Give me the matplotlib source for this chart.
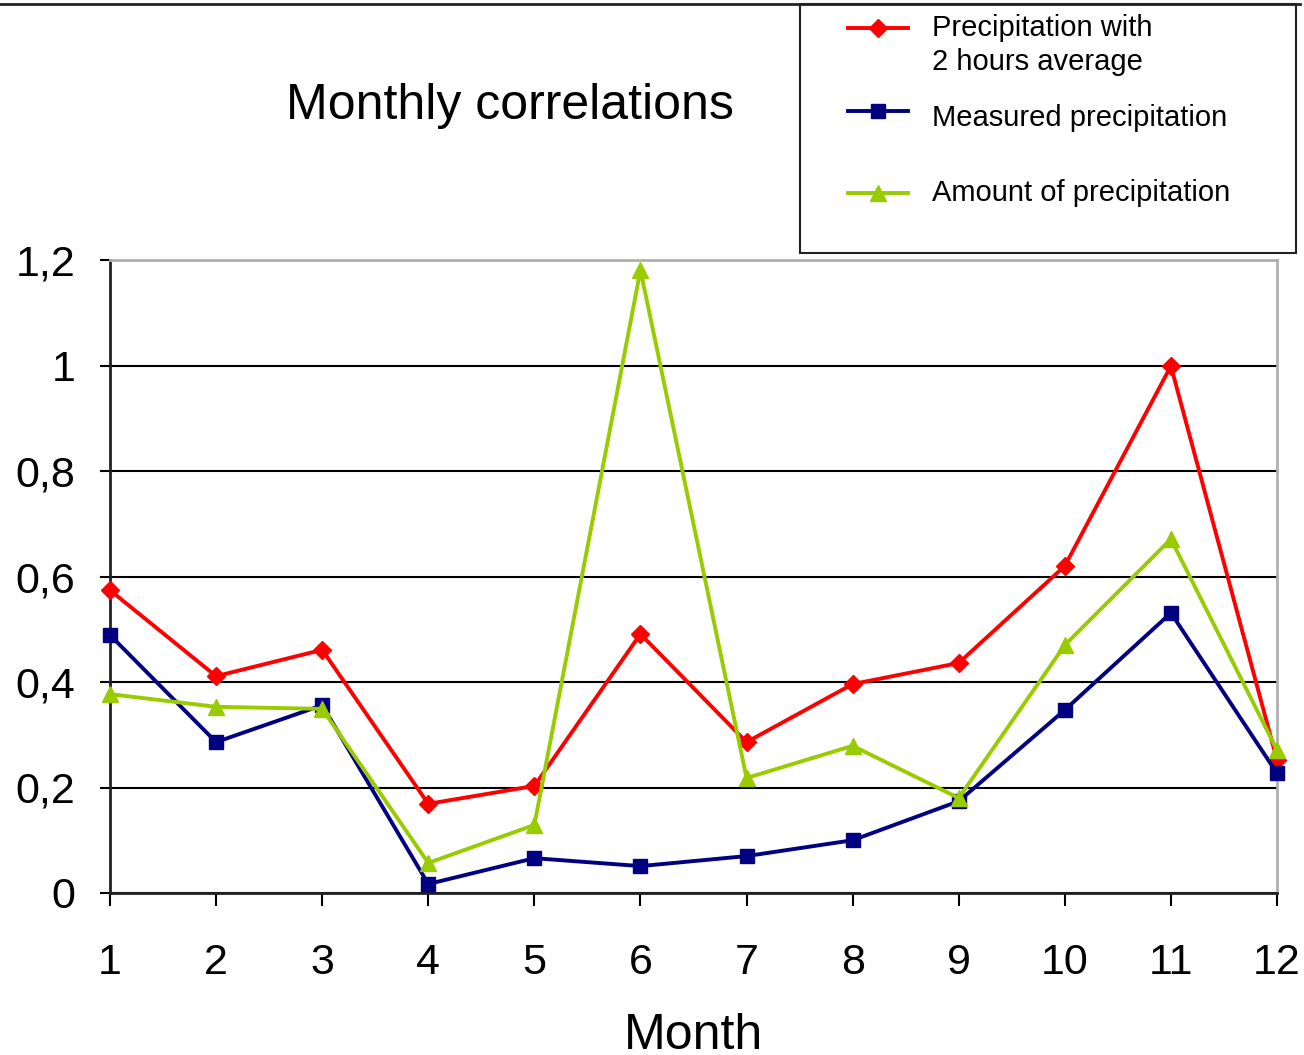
import numpy as np
import matplotlib.pyplot as plt
from matplotlib.lines import Line2D
from matplotlib.patches import Rectangle

plt.rcParams['font.family'] = ['Liberation Sans', 'DejaVu Sans']

# data
months = [1, 2, 3, 4, 5, 6, 7, 8, 9, 10, 11, 12]
avg_2h = [0.574, 0.411, 0.461, 0.169, 0.203, 0.491, 0.286, 0.396, 0.436, 0.620, 0.999, 0.252]
measured = [0.489, 0.286, 0.356, 0.017, 0.066, 0.051, 0.070, 0.100, 0.174, 0.347, 0.531, 0.227]
amount = [0.377, 0.353, 0.349, 0.057, 0.129, 1.181, 0.218, 0.279, 0.180, 0.470, 0.671, 0.271]
labels = ['Precipitation with\n2 hours average', 'Measured precipitation', 'Amount of precipitation']
yticks = [0, 0.2, 0.4, 0.6, 0.8, 1.0, 1.2]
ytick_labels = ['0', '0,2', '0,4', '0,6', '0,8', '1', '1,2']

W, H = 1304, 1055
fig = plt.figure(figsize=(W / 100, H / 100), dpi=100)
ax = fig.add_axes([110 / W, 1 - 893 / H, (1277 - 110) / W, (893 - 260) / H])

styles = [
    dict(color='#ff0000', marker='D', markersize=9),
    dict(color='#000080', marker='s', markersize=9.5),
    dict(color='#99cc00', marker='^', markersize=11),
]
lines = []
for vals, st in zip([avg_2h, measured, amount], styles):
    ln, = ax.plot(months, vals, lw=2.8, zorder=3, clip_on=False, **st)
    lines.append(ln)

ax.set_xlim(1, 12)
ax.set_ylim(0, 1.2)
ax.set_xticks(months)
ax.set_xticklabels([str(m) for m in months])
ax.set_yticks(yticks)
ax.set_yticklabels(ytick_labels)
ax.tick_params(axis='y', length=7, width=1.5, pad=18, labelsize=31)
ax.tick_params(axis='x', length=9, width=1.5, pad=27, labelsize=31)
ax.grid(axis='y', color='black', lw=1.5, zorder=1)
ax.set_axisbelow(True)
for s in ['left', 'bottom']:
    ax.spines[s].set_linewidth(2)
    ax.spines[s].set_color('#222222')
for s in ['top', 'right']:
    ax.spines[s].set_linewidth(2)
    ax.spines[s].set_color('#b0b0b0')
ax.set_xlabel('Month', fontsize=36)
ax.xaxis.set_label_coords(0.5, -0.19)

fig.text(510 / W, 1 - 106 / H, 'Monthly correlations', fontsize=36, ha='center', va='center')

# top border line and legend box
fig.add_artist(Line2D([0, 1300 / W], [1 - 4 / H, 1 - 4 / H], color='#222222', lw=2))
fig.add_artist(Rectangle((800 / W, 1 - 253 / H), 496 / W, 249 / H, fill=False,
                         edgecolor='#222222', lw=1.5, transform=fig.transFigure))
leg_y = [28, 111, 193]
text_y = [45, 118, 193]
for ln, lab, y, ty in zip(lines, labels, leg_y, text_y):
    yf = 1 - y / H
    fig.add_artist(Line2D([848 / W, 908 / W], [yf, yf], color=ln.get_color(), lw=2.8))
    fig.add_artist(Line2D([878 / W], [yf], color=ln.get_color(), marker=ln.get_marker(),
                          markersize=ln.get_markersize()))
    fig.text(932 / W, 1 - ty / H, lab, fontsize=21, ha='left', va='center', linespacing=1.25)

fig.savefig('out.png', dpi=100)
